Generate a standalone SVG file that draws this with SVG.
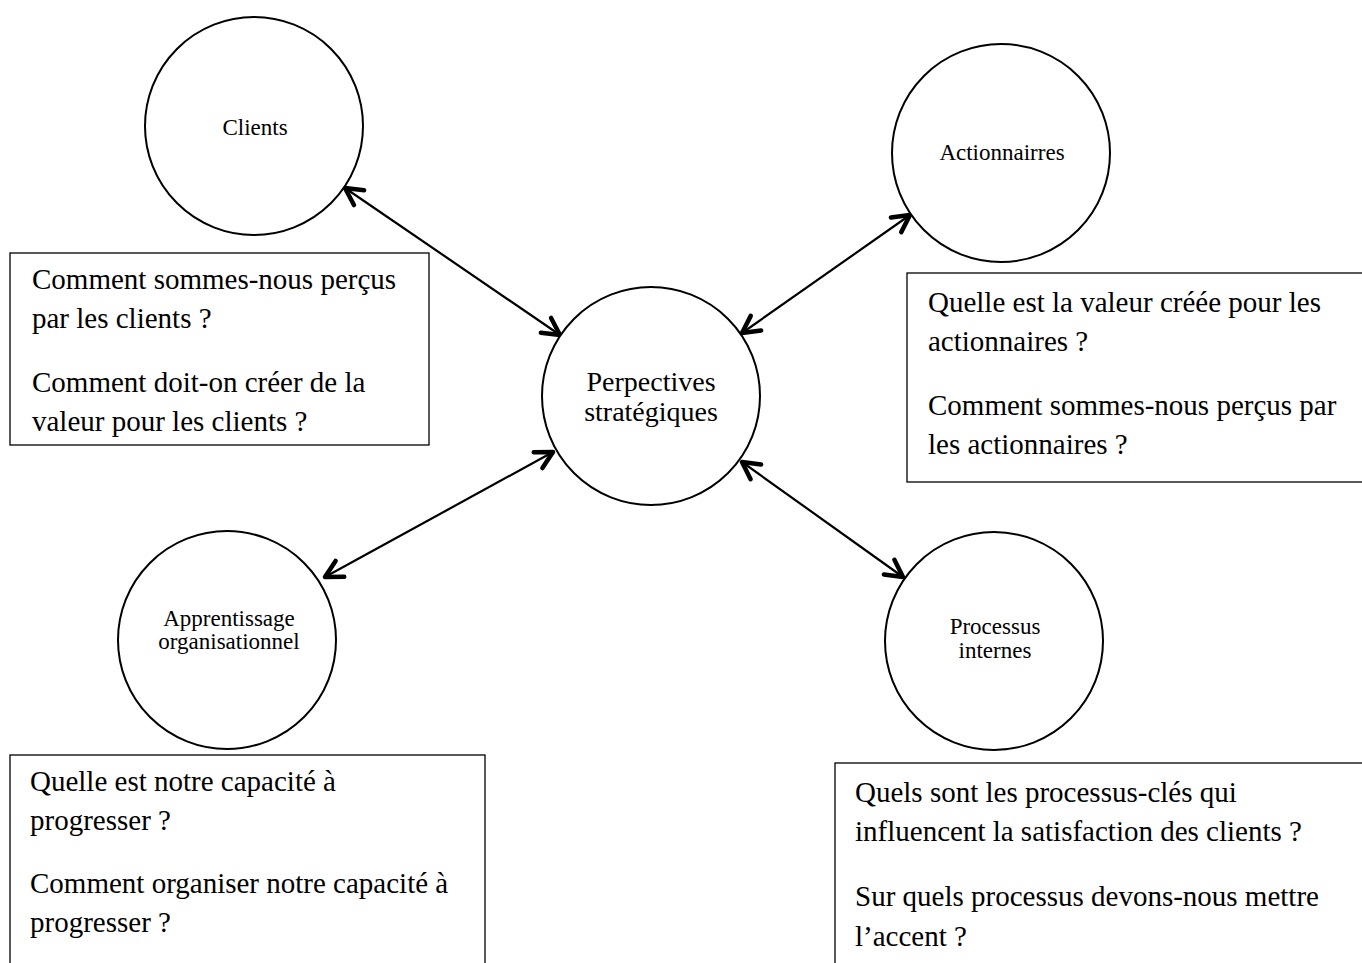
<svg xmlns="http://www.w3.org/2000/svg" width="1362" height="963" viewBox="0 0 1362 963">
<defs>
<style>
.c{fill:#fff;stroke:#000;stroke-width:2}
.b{fill:#fff;stroke:#000;stroke-width:1.3}
.t{font-family:"Liberation Serif","Times New Roman",serif;fill:#000}
.q{font-size:29px}
.n{font-size:23px;text-anchor:middle}
.m{font-size:28px;text-anchor:middle}
.l{stroke:#000;stroke-width:2.2;fill:none;marker-start:url(#ah);marker-end:url(#ah)}
</style>
<marker id="ah" markerUnits="userSpaceOnUse" viewBox="-24 -14 28 28" refX="0" refY="0" markerWidth="28" markerHeight="28" orient="auto-start-reverse">
<path d="M-17,-9 L0,0 L-17,9" fill="none" stroke="#000" stroke-width="4.5" stroke-linecap="round" stroke-linejoin="round"/>
</marker>
</defs>
<rect width="1362" height="963" fill="#fff"/>
<g id="connectors">
<line class="l" x1="345" y1="188" x2="560" y2="335"/>
<line class="l" x1="910" y1="215" x2="742" y2="333"/>
<line class="l" x1="553" y1="452" x2="325" y2="577"/>
<line class="l" x1="742" y1="462" x2="903" y2="577"/>
</g>
<g id="clients">
<circle class="c" cx="254" cy="126" r="109"/>
<text class="t n" x="255" y="135">Clients</text>
</g>
<g id="actionnaires">
<circle class="c" cx="1001" cy="153" r="109"/>
<text class="t n" x="1002" y="160">Actionnairres</text>
</g>
<g id="perspectives">
<circle class="c" cx="651" cy="396" r="109"/>
<text class="t m" x="651" y="391">Perpectives</text>
<text class="t m" x="651" y="421">stratégiques</text>
</g>
<g id="apprentissage">
<circle class="c" cx="227" cy="640" r="109"/>
<text class="t n" x="229" y="626">Apprentissage</text>
<text class="t n" x="229" y="649">organisationnel</text>
</g>
<g id="processus">
<circle class="c" cx="994" cy="641" r="109"/>
<text class="t n" x="995" y="634">Processus</text>
<text class="t n" x="995" y="658">internes</text>
</g>
<g id="box-clients">
<rect class="b" x="10" y="253" width="419" height="192"/>
<text class="t q" x="32" y="289">Comment sommes-nous perçus</text>
<text class="t q" x="32" y="328">par les clients ?</text>
<text class="t q" x="32" y="392">Comment doit-on créer de la</text>
<text class="t q" x="32" y="431">valeur pour les clients ?</text>
</g>
<g id="box-actionnaires">
<rect class="b" x="907" y="273" width="460" height="209"/>
<text class="t q" x="928" y="312">Quelle est la valeur créée pour les</text>
<text class="t q" x="928" y="351">actionnaires ?</text>
<text class="t q" x="928" y="415">Comment sommes-nous perçus par</text>
<text class="t q" x="928" y="454">les actionnaires ?</text>
</g>
<g id="box-apprentissage">
<rect class="b" x="10" y="755" width="475" height="215"/>
<text class="t q" x="30" y="791">Quelle est notre capacité à</text>
<text class="t q" x="30" y="830">progresser ?</text>
<text class="t q" x="30" y="893">Comment organiser notre capacité à</text>
<text class="t q" x="30" y="932">progresser ?</text>
</g>
<g id="box-processus">
<rect class="b" x="835" y="763" width="532" height="210"/>
<text class="t q" x="855" y="802">Quels sont les processus-clés qui</text>
<text class="t q" x="855" y="841">influencent la satisfaction des clients ?</text>
<text class="t q" x="855" y="906">Sur quels processus devons-nous mettre</text>
<text class="t q" x="855" y="946">l’accent ?</text>
</g>
</svg>
